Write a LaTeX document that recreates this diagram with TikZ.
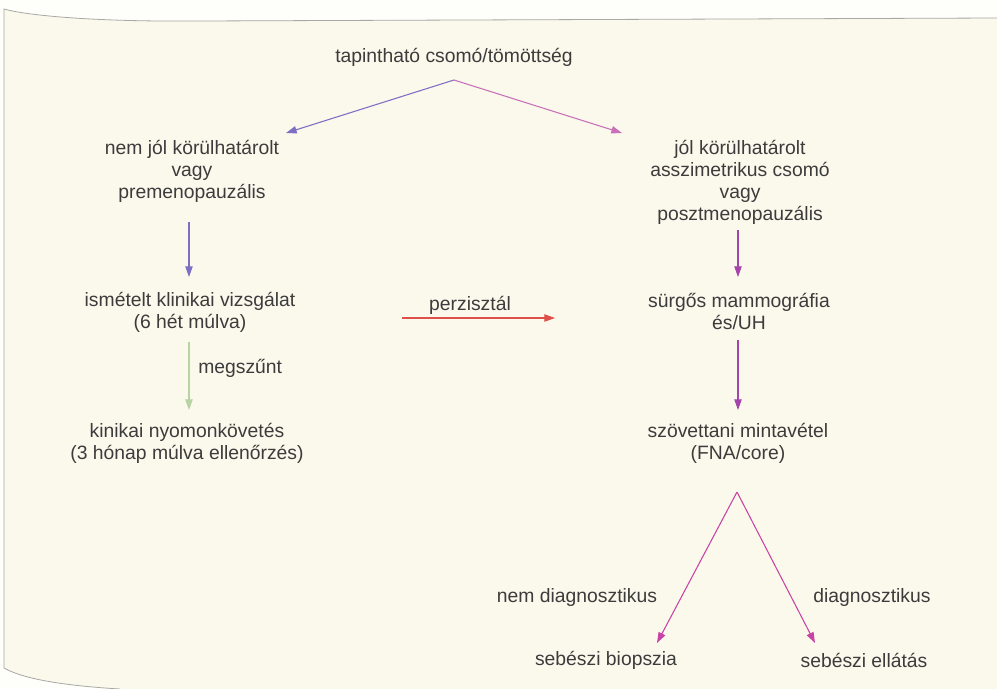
\documentclass[tikz,border=0pt]{standalone}
\usepackage{fontspec}
\setmainfont{Liberation Sans}
\usetikzlibrary{arrows.meta}
\definecolor{txt}{HTML}{3C3C3C}
\definecolor{bgout}{HTML}{FEFEFA}
\definecolor{bgpanel}{HTML}{FBF8EC}
\definecolor{rim}{HTML}{A8A8A4}
\definecolor{cblue}{HTML}{7C6FC4}
\definecolor{cpink}{HTML}{C870B8}
\definecolor{cpurple}{HTML}{A444AC}
\definecolor{cgreen}{HTML}{B6D4A2}
\definecolor{cred}{HTML}{E0504A}
\definecolor{cmag}{HTML}{C844A4}
\tikzset{
  lbl/.style={text=txt, font=\fontsize{14.5}{16.5}\selectfont, align=center, inner sep=0pt},
  conn/.style={line width=0.8pt, -{Triangle[length=8pt,width=5.5pt]}},
}
\begin{document}
\begin{tikzpicture}[x=0.75pt,y=-0.75pt]
\useasboundingbox (0,0) rectangle (997,689);
\fill[bgout] (0,0) rectangle (997,689);
\fill[bgpanel] (997,18) -- (200,21) .. controls (90,22) and (25,15) .. (4,9)
  -- (4,668) .. controls (25,680) and (70,686) .. (120,689) -- (997,689) -- cycle;
\draw[rim, line width=0.6pt] (997,18) -- (200,21) .. controls (90,22) and (25,15) .. (4,9)
  -- (4,668) .. controls (25,680) and (70,686) .. (120,689);

% nodes
\node[lbl] (title) at (454,57) {tapintható csomó/tömöttség};
\node[lbl] (l1) at (192,171) {nem jól körülhatárolt\\vagy\\premenopauzális};
\node[lbl] (r1) at (740,182) {jól körülhatárolt\\asszimetrikus csomó\\vagy\\posztmenopauzális};
\node[lbl] (l2) at (190,312) {ismételt klinikai vizsgálat\\(6 hét múlva)};
\node[lbl] (r2) at (739,311) {sürgős mammográfia\\és/UH};
\node[lbl] (l3) at (187,443) {kinikai nyomonkövetés\\(3 hónap múlva ellenőrzés)};
\node[lbl] (r3) at (738,443) {szövettani mintavétel\\(FNA/core)};
\node[lbl] (b1) at (606,660) {sebészi biopszia};
\node[lbl] (b2) at (864,660) {sebészi ellátás};

% connector end points
\coordinate (apex) at (454,80);
\coordinate (ltip) at (286,133);
\coordinate (rtip) at (622,133);
\coordinate (l1s) at (189,222);
\coordinate (l2n) at (189,277);
\coordinate (l2s) at (189,342);
\coordinate (l3n) at (189,410);
\coordinate (r1s) at (738,230);
\coordinate (r2n) at (738,277);
\coordinate (r2s) at (738,340);
\coordinate (r3n) at (738,410);
\coordinate (pa) at (402,318);
\coordinate (pb) at (555,318);
\coordinate (bapex) at (737,492);
\coordinate (btl) at (657,643);
\coordinate (btr) at (815,643);

% connectors
\draw[conn, cblue] (apex) -- (ltip);
\draw[conn, cpink] (apex) -- (rtip);
\draw[conn, cblue] (l1s) -- (l2n);
\draw[conn, cgreen] (l2s) -- (l3n);
\draw[conn, cpurple] (r1s) -- (r2n);
\draw[conn, cpurple] (r2s) -- (r3n);
\draw[conn, cred] (pa) -- (pb);
\draw[conn, cmag] (bapex) -- (btl);
\draw[conn, cmag] (bapex) -- (btr);

% connector labels
\node[lbl] (lpers) at (470,305) {perzisztál};
\node[lbl, anchor=west] (lmeg) at (198,368) {megszűnt};
\node[lbl] (lnd) at (577,597) {nem diagnosztikus};
\node[lbl] (ld) at (872,597) {diagnosztikus};
\end{tikzpicture}
\end{document}
